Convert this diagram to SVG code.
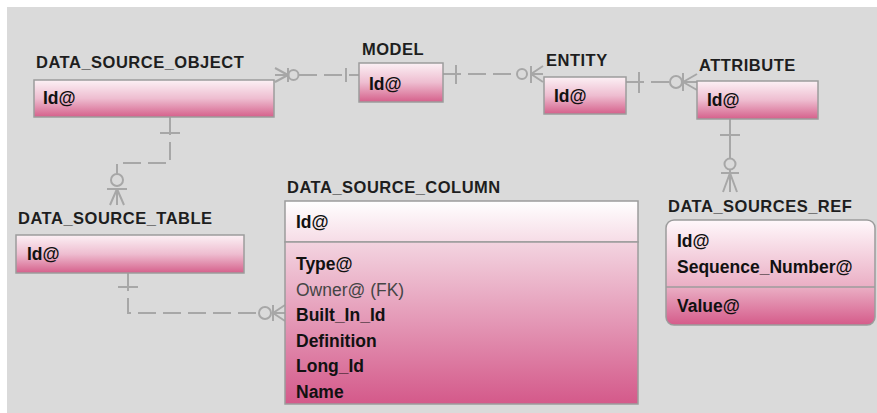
<svg xmlns="http://www.w3.org/2000/svg" width="877" height="413" viewBox="0 0 877 413">
<defs>
<linearGradient id="g1" x1="0" y1="0" x2="0" y2="1">
<stop offset="0" stop-color="#fcf1f5"/>
<stop offset="0.5" stop-color="#eebdd0"/>
<stop offset="1" stop-color="#d5608b"/>
</linearGradient>
<linearGradient id="gkey" x1="0" y1="0" x2="0" y2="1">
<stop offset="0" stop-color="#ffffff"/>
<stop offset="1" stop-color="#f6dce6"/>
</linearGradient>
<linearGradient id="gattr" x1="0" y1="0" x2="0" y2="1">
<stop offset="0" stop-color="#f3d4e0"/>
<stop offset="1" stop-color="#d4598a"/>
</linearGradient>
<linearGradient id="gdsr" x1="0" y1="0" x2="0" y2="1">
<stop offset="0" stop-color="#fff8fb"/>
<stop offset="0.64" stop-color="#eaaec4"/>
<stop offset="1" stop-color="#d55b8a"/>
</linearGradient>
</defs>
<style>
.box{stroke:#9c9c9c;stroke-width:1.5}
.title{font-family:"Liberation Sans",Arial,sans-serif;font-weight:bold;font-size:16.5px;letter-spacing:0.5px;fill:#1e1e1e}
.fld{font-family:"Liberation Sans",Arial,sans-serif;font-weight:bold;font-size:17.5px;fill:#111}
.fk{font-weight:normal;fill:#454545}
.ln{fill:none;stroke:#a7a7a7;stroke-width:2}
.dash{stroke-dasharray:18 7}
.ring{fill:#dadada;stroke:#a7a7a7;stroke-width:2}
</style>
<rect x="0" y="0" width="877" height="413" fill="#ffffff"/>
<rect x="7" y="7" width="870" height="406" fill="#dadada"/>

<g id="connectors">
  <g id="c-dso-model">
    <path class="ln dash" d="M299 75 H359"/>
    <path class="ln" d="M346 68 V82"/>
    <path class="ln" d="M288 75 L275 68 M288 75 L275 82 M288 75 H275 M288 68 V82"/>
    <circle class="ring" cx="293.5" cy="75" r="5"/>
  </g>
  <g id="c-model-entity">
    <path class="ln dash" d="M443 74 H517"/>
    <path class="ln" d="M456 65 V84"/>
    <circle class="ring" cx="522" cy="74" r="5"/>
    <path class="ln" d="M531 66 V83 M531 74 L543 66 M531 74 L543 82 M531 74 H543"/>
  </g>
  <g id="c-entity-attribute">
    <path class="ln dash" d="M626 82 H670"/>
    <path class="ln" d="M639 72 V93"/>
    <circle class="ring" cx="676" cy="82" r="6"/>
    <path class="ln" d="M683 73 V91 M683 82 L697 74 M683 82 L697 90 M683 82 H697"/>
  </g>
  <g id="c-attribute-dsr">
    <path class="ln" d="M730 119 V192"/>
    <path class="ln" d="M720 135 H740"/>
    <circle class="ring" cx="730" cy="164" r="5.5"/>
    <path class="ln" d="M721 173 H739 M730 173 L723 192 M730 173 L737 192"/>
  </g>
  <g id="c-dso-dst">
    <path class="ln dash" d="M170 117 V163 H117 V174"/>
    <path class="ln" d="M160 133 H180"/>
    <circle class="ring" cx="117" cy="180" r="6"/>
    <path class="ln" d="M107 189 H127 M117 189 L110 205 M117 189 L124 205 M117 189 V205"/>
  </g>
  <g id="c-dst-dsc">
    <path class="ln dash" d="M128 273 V313 H259"/>
    <path class="ln" d="M118 287 H138"/>
    <circle class="ring" cx="265" cy="313" r="6"/>
    <path class="ln" d="M273 305 V321 M273 313 L285 305 M273 313 L285 321 M273 313 H285"/>
  </g>
</g>

<g id="DATA_SOURCE_OBJECT">
  <text class="title" x="36" y="68">DATA_SOURCE_OBJECT</text>
  <rect class="box" x="34" y="80" width="240" height="37" fill="url(#g1)"/>
  <text class="fld" x="43" y="104">Id@</text>
</g>
<g id="MODEL">
  <text class="title" x="362" y="55">MODEL</text>
  <rect class="box" x="359" y="63" width="84" height="39" fill="url(#g1)"/>
  <text class="fld" x="369" y="90">Id@</text>
</g>
<g id="ENTITY">
  <text class="title" x="546" y="66">ENTITY</text>
  <rect class="box" x="544" y="77" width="82" height="37" fill="url(#g1)"/>
  <text class="fld" x="554" y="102">Id@</text>
</g>
<g id="ATTRIBUTE">
  <text class="title" x="699" y="71">ATTRIBUTE</text>
  <rect class="box" x="697" y="81" width="121" height="38" fill="url(#g1)"/>
  <text class="fld" x="707" y="106">Id@</text>
</g>
<g id="DATA_SOURCE_TABLE">
  <text class="title" x="18" y="224">DATA_SOURCE_TABLE</text>
  <rect class="box" x="16" y="235" width="228" height="38" fill="url(#g1)"/>
  <text class="fld" x="27" y="260">Id@</text>
</g>
<g id="DATA_SOURCE_COLUMN">
  <text class="title" x="287" y="193">DATA_SOURCE_COLUMN</text>
  <rect class="box" x="285" y="201" width="353" height="41" fill="url(#gkey)"/>
  <rect class="box" x="285" y="242" width="353" height="162" fill="url(#gattr)"/>
  <text class="fld" x="296" y="228">Id@</text>
  <text class="fld" x="296" y="270">Type@</text>
  <text class="fld fk" x="296" y="295.5">Owner@ (FK)</text>
  <text class="fld" x="296" y="321">Built_In_Id</text>
  <text class="fld" x="296" y="346.5">Definition</text>
  <text class="fld" x="296" y="372">Long_Id</text>
  <text class="fld" x="296" y="397.5">Name</text>
</g>
<g id="DATA_SOURCES_REF">
  <text class="title" x="668" y="212">DATA_SOURCES_REF</text>
  <rect class="box" x="666" y="220" width="209" height="105" rx="8" fill="url(#gdsr)"/>
  <path d="M666 287 H875" stroke="#9c9c9c" stroke-width="1.5"/>
  <text class="fld" x="677" y="247">Id@</text>
  <text class="fld" x="677" y="273">Sequence_Number@</text>
  <text class="fld" x="677" y="312">Value@</text>
</g>
</svg>
